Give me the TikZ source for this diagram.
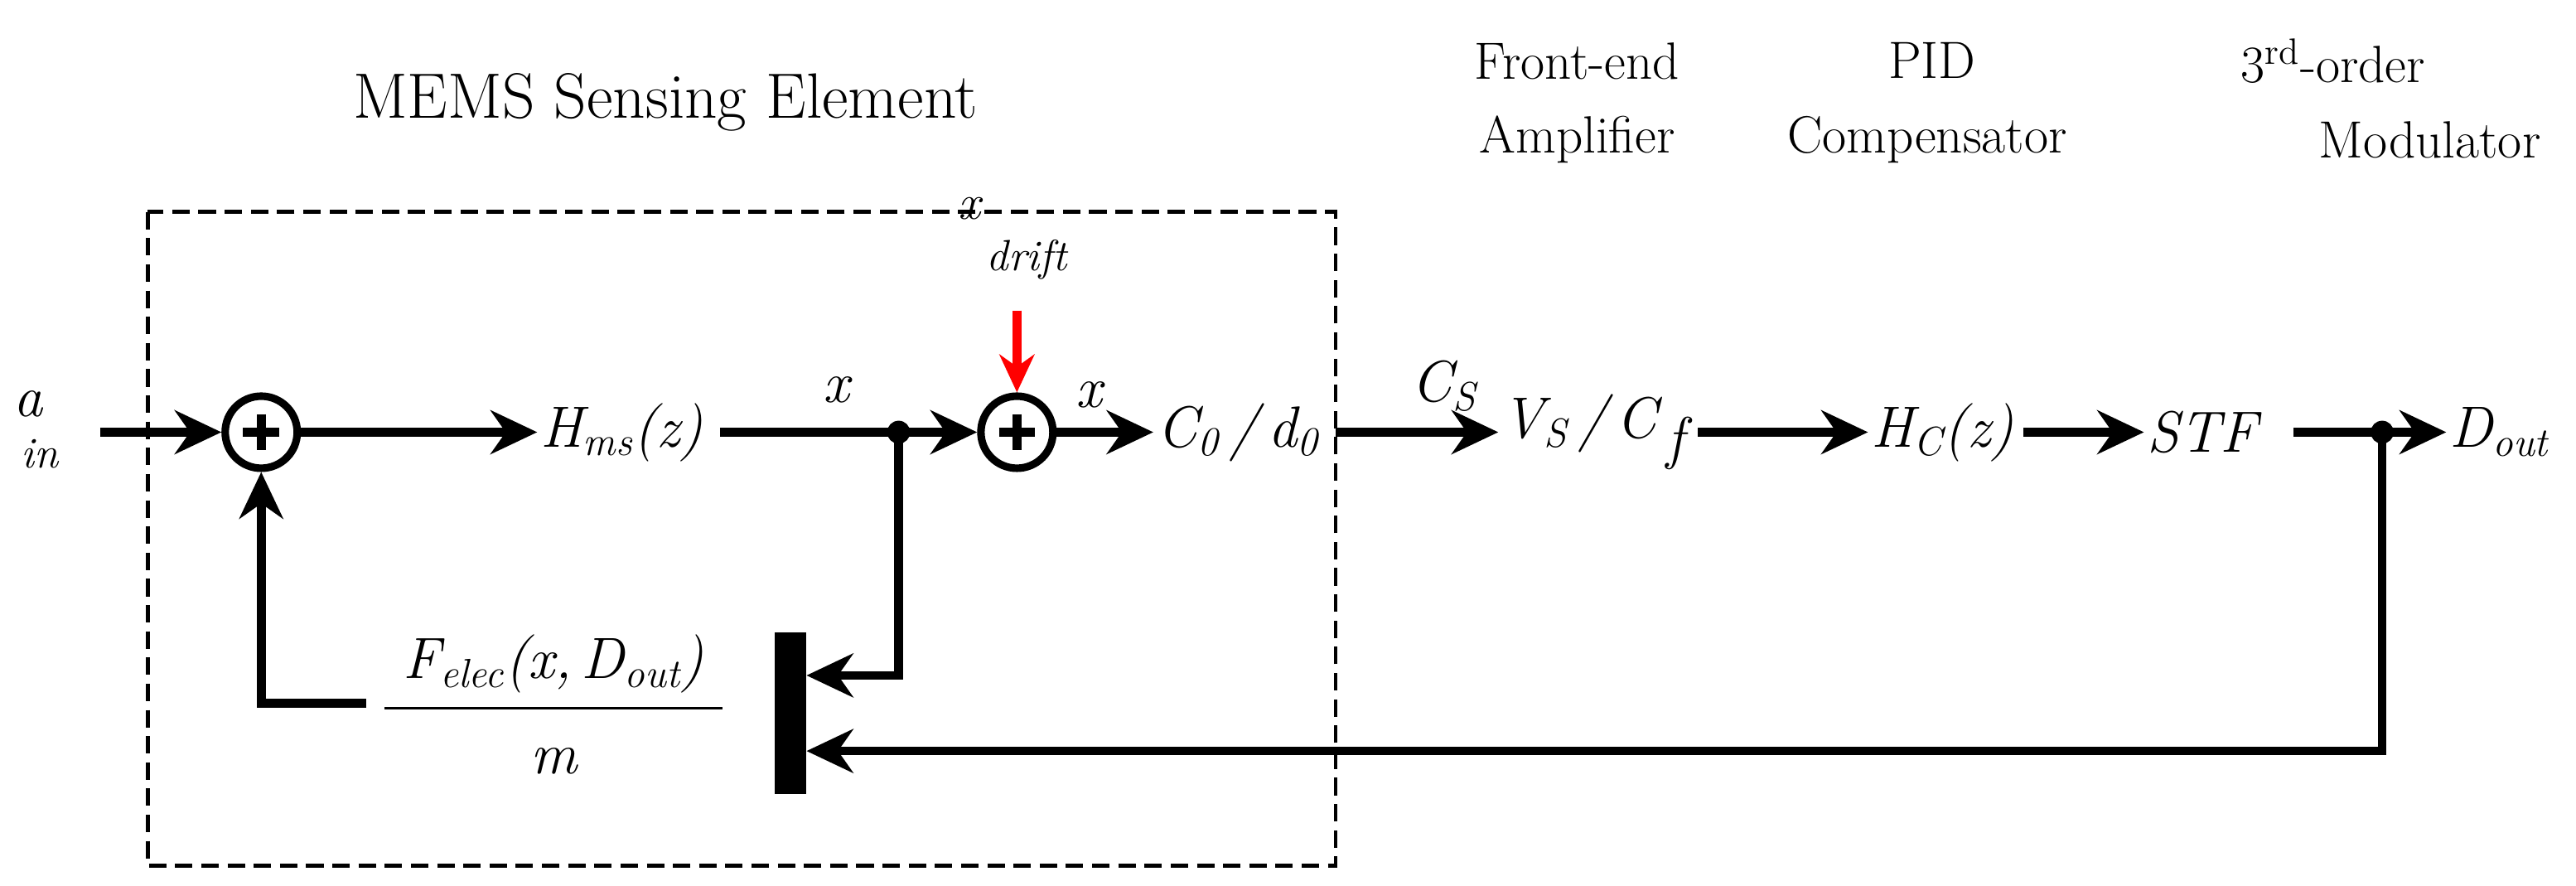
\documentclass[tikz,border=0pt]{standalone}
\usetikzlibrary{arrows.meta}
\newcommand{\tms}{\rmfamily}
\newcommand{\sbs}[1]{\textsubscript{\itshape #1}}
\begin{document}
\begin{tikzpicture}[x=0.01983cm,y=-0.01983cm,
  ln/.style={line width=3pt},
  ar/.style={ln,-{Stealth[length=16pt,width=15pt]}},
  sum/.style={circle,draw,line width=2.6pt,minimum size=0.87cm,inner sep=0pt},
  mt/.style={font=\tms\fontsize{20}{24}\selectfont\itshape,inner sep=1pt},
  lab/.style={font=\tms\fontsize{18}{20}\selectfont,inner sep=0pt}]
\useasboundingbox (0,0) rectangle (1568,539);
\draw[line width=1.4pt,dash pattern=on 6pt off 3pt] (90,129) rectangle (813,527);
\node[lab,font=\tms\fontsize{22}{24}\selectfont] (title) at (405,62) {MEMS Sensing Element};
\node[lab] (fe1) at (960,37) {Front-end};
\node[lab] (fe2) at (960,85) {Amplifier};
\node[lab] (pid1) at (1176,37) {PID};
\node[lab] (pid2) at (1173,85) {Compensator};
\node[lab] (m1) at (1420,37) {3\textsuperscript{rd}-order};
\node[lab] (m2) at (1479,85) {Modulator};
% main path
\node[mt] (ain) at (17,246) {a};
\node[mt,font=\tms\fontsize{15}{16}\selectfont\itshape] (ainsub) at (24,276) {in};
\coordinate (ainR) at (61,263);
\node[sum] (s1) at (159,263) {};
\draw[ln] (s1.center) ++(-11,0) -- ++(22,0) (s1.center) ++(0,-11) -- ++(0,22);
\node[mt,anchor=west] (hms) at (327,263) {H\sbs{ms}(z)};
\coordinate (d1) at (547,263);
\node[sum] (s2) at (619,263) {};
\draw[ln] (s2.center) ++(-11,0) -- ++(22,0) (s2.center) ++(0,-11) -- ++(0,22);
\node[mt,anchor=west] (c0) at (702,263) {C\textsubscript{0}\,/\,d\textsubscript{0}};
\node[mt,anchor=west] (vs) at (912,263) {V\sbs{S}\,/\,C\,\raisebox{-0.35em}{\itshape f}};
\node[mt,anchor=west] (hc) at (1137,263) {H\sbs{C}(z)};
\node[mt,anchor=west] (stf) at (1305,263) {STF};
\coordinate (d2) at (1450,263);
\node[mt,anchor=west] (dout) at (1489,263) {D\sbs{out}};
\node[mt] (x1) at (509,237) {x};
\node[mt] (x2) at (663,240) {x};
\node[mt] (cs) at (879,235) {C\sbs{S}};
\node[mt,font=\tms\fontsize{17}{18}\selectfont\itshape] (xd) at (590,127) {x};
\node[mt,font=\tms\fontsize{15}{16}\selectfont\itshape] (drift) at (625,158) {drift};
\coordinate (rtop) at (619,189);
\draw[ln,red,-{Stealth[length=13pt,width=12pt]}] (rtop) -- (s2.north);
\draw[ar] (ainR) -- (s1.west);
\draw[ar] (s1.east) -- (hms.west);
\draw[ln] (hms.east) ++(8,0) -- (d1);
\draw[ar] (d1) -- (s2.west);
\draw[ar] (s2.east) -- (c0.west);
\draw[ar] (813,263) -- (vs.west);
\draw[ar] (vs.east) ++(6,0) -- (hc.west);
\draw[ar] (hc.east) ++(4,0) -- (stf.west);
\draw[ar] (1396,263) -- (dout.west);
\fill (d1) circle (7);
\fill (d2) circle (7);
% feedback
\node[fill,minimum width=0.38cm,minimum height=1.96cm,inner sep=0pt] (bar) at (481,434) {};
\draw[ar] (d1) |- (bar.east |- 0,411);
\draw[ar] (d2) |- (bar.east |- 0,457);
\node[mt] (num) at (337,404) {F\sbs{elec}(x,\,D\sbs{out})};
\draw[line width=1pt] (234,431) -- (440,431);
\node[mt] (mm) at (337,463) {m};
\coordinate (fbL) at (223,428);
\draw[ar] (fbL) -| (s1.south);
\end{tikzpicture}
\end{document}
